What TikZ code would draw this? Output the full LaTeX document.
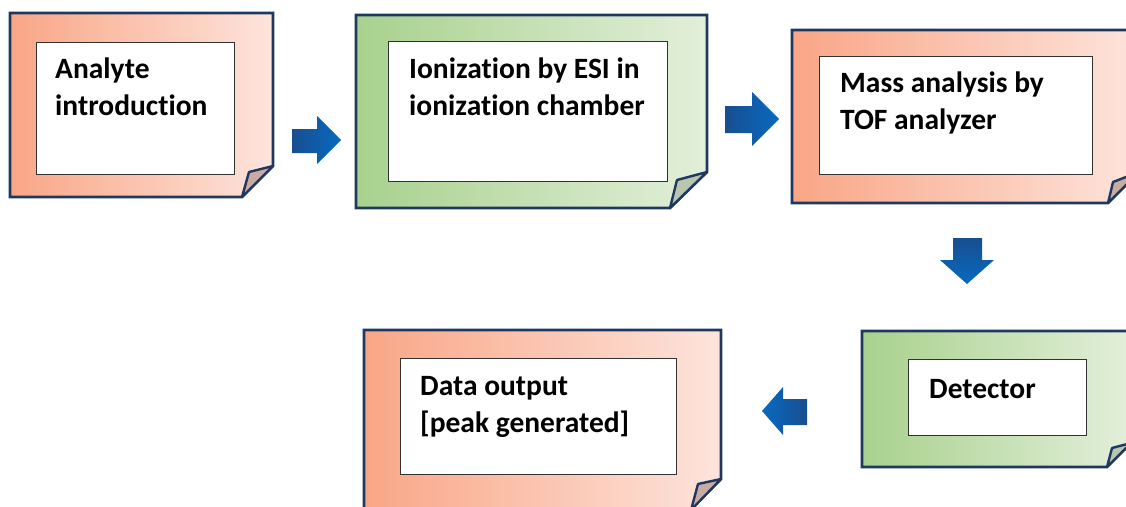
\documentclass[tikz,border=0pt]{standalone}
\usepackage{fontspec}
\setmainfont{Carlito}[RawFeature={-liga}]
\definecolor{navy}{RGB}{31,56,96}
\definecolor{orL}{RGB}{249,166,134}
\definecolor{orR}{RGB}{253,228,220}
\definecolor{grL}{RGB}{168,209,141}
\definecolor{grR}{RGB}{227,239,218}
\definecolor{orFold}{RGB}{200,171,163}
\definecolor{grFold}{RGB}{184,198,175}
\definecolor{arDark}{RGB}{24,78,144}
\definecolor{arLight}{RGB}{8,106,192}
\tikzset{
  orangebox/.style={left color=orL, right color=orR, draw=navy, line width=2.6pt, line join=miter},
  greenbox/.style={left color=grL, right color=grR, draw=navy, line width=2.6pt, line join=miter},
  foldor/.style={fill=orFold, draw=navy, line width=2.4pt, line join=round},
  foldgr/.style={fill=grFold, draw=navy, line width=2.4pt, line join=round},
  innerbox/.style={draw={rgb,255:red,50;green,50;blue,50}, line width=1.1pt, fill=white, rectangle, inner sep=0pt, anchor=north west},
  boxtext/.style={font=\fontsize{29.5}{36.5}\selectfont\bfseries, align=left, inner sep=0pt, anchor=base west}
}
\begin{document}
\begin{tikzpicture}[x=1pt,y=-1pt]
\useasboundingbox (0,0) rectangle (1126,506);
% Box 1
\shadedraw[orangebox] (10,13) -- (273,13) -- (273,166) -- (242,197) -- (10,197) -- cycle;
\draw[foldor] (273,166) -- (249,172) -- (242,197) -- cycle;
\node[innerbox, minimum width=198pt, minimum height=132pt] (b1) at (36,42) {};
\node[boxtext] (t1) at (55,115) {Analyte\\introduction};
% Box 2
\shadedraw[greenbox] (356,15) -- (707,15) -- (707,172) -- (670,208) -- (356,208) -- cycle;
\draw[foldgr] (707,172) -- (677,180) -- (670,208) -- cycle;
\node[innerbox, minimum width=279pt, minimum height=140pt] (b2) at (388,41) {};
\node[boxtext] (t2) at (409,115) {Ionization by ESI in\\ionization chamber};
% Box 3
\shadedraw[orangebox] (792,30) -- (1139,30) -- (1139,172) -- (1108,203) -- (792,203) -- cycle;
\draw[foldor] (1139,172) -- (1113,182) -- (1108,203) -- cycle;
\node[innerbox, minimum width=273pt, minimum height=118pt] (b3) at (819,56) {};
\node[boxtext] (t3) at (840,129) {Mass analysis by\\TOF analyzer};
% Box 4
\shadedraw[greenbox] (862,331) -- (1131,331) -- (1131,443) -- (1107,467) -- (862,467) -- cycle;
\draw[foldgr] (1131,443) -- (1112,448) -- (1107,467) -- cycle;
\node[innerbox, minimum width=178pt, minimum height=76pt] (b4) at (908,359) {};
\node[boxtext] (t4) at (929,398) {Detector};
% Box 5
\shadedraw[orangebox] (364,330) -- (721,330) -- (721,479) -- (690,510) -- (364,510) -- cycle;
\draw[foldor] (721,479) -- (698,484) -- (691,510) -- cycle;
\node[innerbox, minimum width=276pt, minimum height=116pt] (b5) at (400,358) {};
\node[boxtext] (t5) at (420,432) {Data output\\{[peak generated]}};
% Arrows
\shade[left color=arDark, right color=arLight] (292,129) -- (317,129) -- (317,116) -- (341,140) -- (317,164) -- (317,153) -- (292,153) -- cycle;
\shade[left color=arDark, right color=arLight] (725,106) -- (752,106) -- (752,92) -- (779,119) -- (752,146) -- (752,133) -- (725,133) -- cycle;
\shade[top color=arDark, bottom color=arLight] (953,238) -- (982,238) -- (982,260) -- (994,260) -- (967,284) -- (940,260) -- (953,260) -- cycle;
\shade[left color=arLight, right color=arDark] (807,399) -- (783,399) -- (783,387) -- (762,411) -- (783,435) -- (783,425) -- (807,425) -- cycle;
\end{tikzpicture}
\end{document}
